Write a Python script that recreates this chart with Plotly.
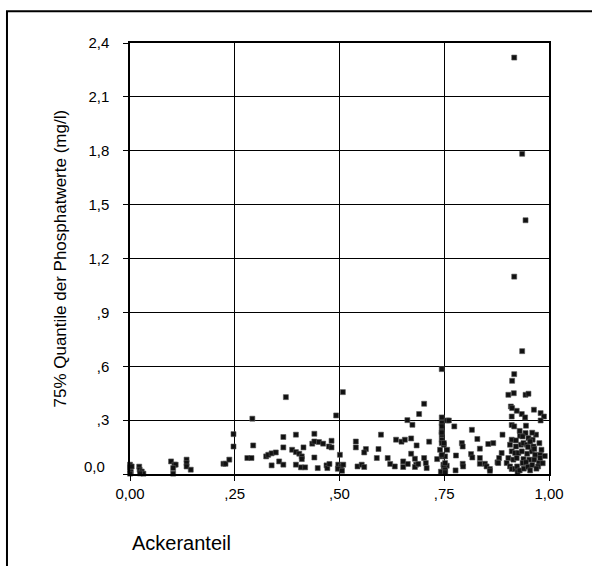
import plotly.graph_objects as go

# Ackeranteil (x) and 75% quantile of phosphate values in mg/l (y)
acker = [
    0.000, 0.000, 0.000, 0.002, 0.000, 0.004, 0.022, 0.023, 0.028, 0.032, 0.024,
    0.098, 0.106, 0.109, 0.103, 0.103, 0.135, 0.135, 0.135, 0.145,
    0.223, 0.228, 0.237, 0.247, 0.247,
    0.508, 0.372, 0.292, 0.492, 0.280, 0.290, 0.294, 0.325, 0.330, 0.338, 0.348,
    0.338, 0.356, 0.366, 0.366, 0.366, 0.396, 0.387, 0.396, 0.404, 0.410, 0.410,
    0.414, 0.396, 0.408, 0.418, 0.440, 0.435, 0.440, 0.451, 0.461, 0.440, 0.448,
    0.469, 0.471, 0.476, 0.475, 0.481, 0.481, 0.501, 0.497, 0.504, 0.509, 0.496, 0.506,
    0.744, 0.702, 0.690, 0.662, 0.674, 0.744, 0.744, 0.757, 0.599, 0.539, 0.539,
    0.563, 0.559, 0.593, 0.635, 0.648, 0.656, 0.671, 0.684, 0.714, 0.671, 0.589,
    0.615, 0.680, 0.702, 0.733, 0.740, 0.744, 0.744, 0.744, 0.749, 0.744, 0.752,
    0.748, 0.756, 0.543, 0.553, 0.559, 0.621, 0.632, 0.652, 0.652, 0.663, 0.683,
    0.680, 0.688, 0.706, 0.708, 0.752, 0.750, 0.742,
    0.917, 0.936, 0.944, 0.917, 0.936, 0.917, 0.912, 0.903, 0.916, 0.944, 0.951,
    0.909, 0.912, 0.923, 0.911, 0.935, 0.943, 0.964, 0.980, 0.988, 0.980, 0.761,
    0.774, 0.816, 0.911, 0.917, 0.945, 0.944, 0.889, 0.931, 0.937, 0.969, 0.829,
    0.911, 0.921, 0.951, 0.961, 0.867, 0.855, 0.792, 0.794, 0.835, 0.907, 0.921,
    0.933, 0.939, 0.947, 0.955, 0.963, 0.977, 0.982, 0.887, 0.881, 0.814, 0.817,
    0.778, 0.835, 0.911, 0.919, 0.927, 0.935, 0.948, 0.959, 0.967, 0.979, 0.979,
    0.903, 0.915, 0.923, 0.939, 0.953, 0.965, 0.976, 0.877, 0.879, 0.794, 0.795,
    0.835, 0.847, 0.851, 0.859, 0.859, 0.899, 0.907, 0.911, 0.919, 0.924, 0.937,
    0.945, 0.974, 0.777, 0.749, 0.752, 0.752, 0.744, 0.744, 0.749, 0.744, 0.744,
    0.757, 0.752,
    0.925, 0.930, 0.940, 0.950, 0.955, 0.960, 0.970, 0.985, 0.990, 0.965, 0.950,
    0.930, 0.960,
]
phosphat = [
    0.052, 0.037, 0.024, 0.011, 0.002, 0.042, 0.041, 0.024, 0.014, 0.002, 0.003,
    0.070, 0.052, 0.052, 0.033, 0.002, 0.080, 0.061, 0.042, 0.024,
    0.057, 0.057, 0.080, 0.153, 0.222,
    0.456, 0.428, 0.308, 0.326, 0.089, 0.089, 0.159, 0.098, 0.107, 0.115, 0.120,
    0.048, 0.070, 0.052, 0.206, 0.148, 0.219, 0.135, 0.122, 0.113, 0.098, 0.083,
    0.148, 0.052, 0.037, 0.037, 0.224, 0.169, 0.181, 0.178, 0.169, 0.092, 0.033,
    0.048, 0.033, 0.056, 0.153, 0.185, 0.148, 0.107, 0.052, 0.042, 0.052, 0.029, 0.018,
    0.584, 0.391, 0.334, 0.300, 0.274, 0.315, 0.284, 0.298, 0.219, 0.181, 0.148,
    0.139, 0.120, 0.139, 0.191, 0.180, 0.191, 0.198, 0.159, 0.180, 0.113, 0.089,
    0.089, 0.085, 0.089, 0.083, 0.135, 0.191, 0.237, 0.219, 0.163, 0.098, 0.098,
    0.052, 0.046, 0.042, 0.052, 0.039, 0.056, 0.042, 0.070, 0.039, 0.056, 0.052,
    0.039, 0.056, 0.061, 0.033, 0.014, 0.024, 0.013,
    2.319, 1.783, 1.413, 1.099, 0.684, 0.556, 0.519, 0.441, 0.450, 0.441, 0.447,
    0.376, 0.367, 0.352, 0.320, 0.334, 0.315, 0.358, 0.339, 0.320, 0.298, 0.298,
    0.265, 0.246, 0.273, 0.265, 0.269, 0.228, 0.219, 0.213, 0.209, 0.219, 0.195,
    0.191, 0.187, 0.200, 0.191, 0.172, 0.167, 0.172, 0.153, 0.141, 0.163, 0.153,
    0.163, 0.172, 0.163, 0.181, 0.153, 0.172, 0.135, 0.117, 0.089, 0.111, 0.092,
    0.103, 0.089, 0.126, 0.117, 0.117, 0.126, 0.113, 0.126, 0.107, 0.107, 0.089,
    0.089, 0.080, 0.089, 0.083, 0.080, 0.080, 0.061, 0.065, 0.061, 0.057, 0.042,
    0.057, 0.057, 0.042, 0.028, 0.018, 0.061, 0.042, 0.028, 0.028, 0.042, 0.061,
    0.065, 0.042, 0.020, 0.042, 0.024, 0.009, 0.107, 0.172, 0.172, 0.231, 0.265,
    0.135, 0.061,
    0.010, 0.020, 0.030, 0.040, 0.020, 0.050, 0.030, 0.060, 0.100, 0.140, 0.150,
    0.240, 0.230,
]

x_ticks = [0, 0.25, 0.5, 0.75, 1.0]
x_labels = ["0,00", ",25", ",50", ",75", "1,00"]
y_ticks = [0, 0.3, 0.6, 0.9, 1.2, 1.5, 1.8, 2.1, 2.4]
y_labels = ["", ",3", ",6", ",9", "1,2", "1,5", "1,8", "2,1", "2,4"]

FONT = "Arial, Liberation Sans, sans-serif"

fig = go.Figure()
fig.add_trace(go.Scatter(
    x=acker, y=phosphat, mode="markers",
    marker=dict(symbol="square", size=5, color="#111111",
                line=dict(color="#555555", width=0.6)),
    cliponaxis=False, hoverinfo="x+y", showlegend=False,
))

fig.update_layout(
    width=592, height=566,
    margin=dict(l=130, r=43, t=43, b=566 - 474),
    paper_bgcolor="white", plot_bgcolor="white",
    font=dict(family=FONT, size=15, color="black"),
    xaxis=dict(range=[0, 1], tickvals=x_ticks, ticktext=x_labels,
               showgrid=True, gridcolor="black", gridwidth=1,
               showline=True, linecolor="black", linewidth=1.5, mirror=True,
               ticks="outside", ticklen=5, tickcolor="black",
               zeroline=False, tickfont=dict(size=15)),
    yaxis=dict(range=[0, 2.4], tickvals=y_ticks, ticktext=y_labels,
               showgrid=True, gridcolor="black", gridwidth=1,
               showline=True, linecolor="black", linewidth=1.5, mirror=True,
               ticks="outside", ticklen=5, tickcolor="black",
               zeroline=False, tickfont=dict(size=15), ticklabelstandoff=11),
)

# "0,0" label sits slightly above the axis line
fig.add_annotation(xref="paper", yref="y", x=-0.054, y=0.04, text="0,0",
                   showarrow=False, xanchor="right", yanchor="middle",
                   font=dict(size=15))

fig.add_annotation(xref="paper", yref="paper", x=-0.167, y=0.5,
                   text="75% Quantile der Phosphatwerte (mg/l)", textangle=-90,
                   showarrow=False, xanchor="center", yanchor="middle",
                   font=dict(size=17))
fig.add_annotation(xref="paper", yref="paper", x=0.0, y=-0.159,
                   text="Ackeranteil", showarrow=False,
                   xanchor="left", yanchor="middle", font=dict(size=20))

# outer frame (extends past the right and bottom edges of the picture)
fig.add_shape(type="rect", xref="paper", yref="paper",
              x0=-0.2936, y0=-0.4, x1=1.3, y1=1.0735,
              line=dict(color="black", width=2), fillcolor="rgba(0,0,0,0)",
              layer="below")

fig.write_html("out.html")
